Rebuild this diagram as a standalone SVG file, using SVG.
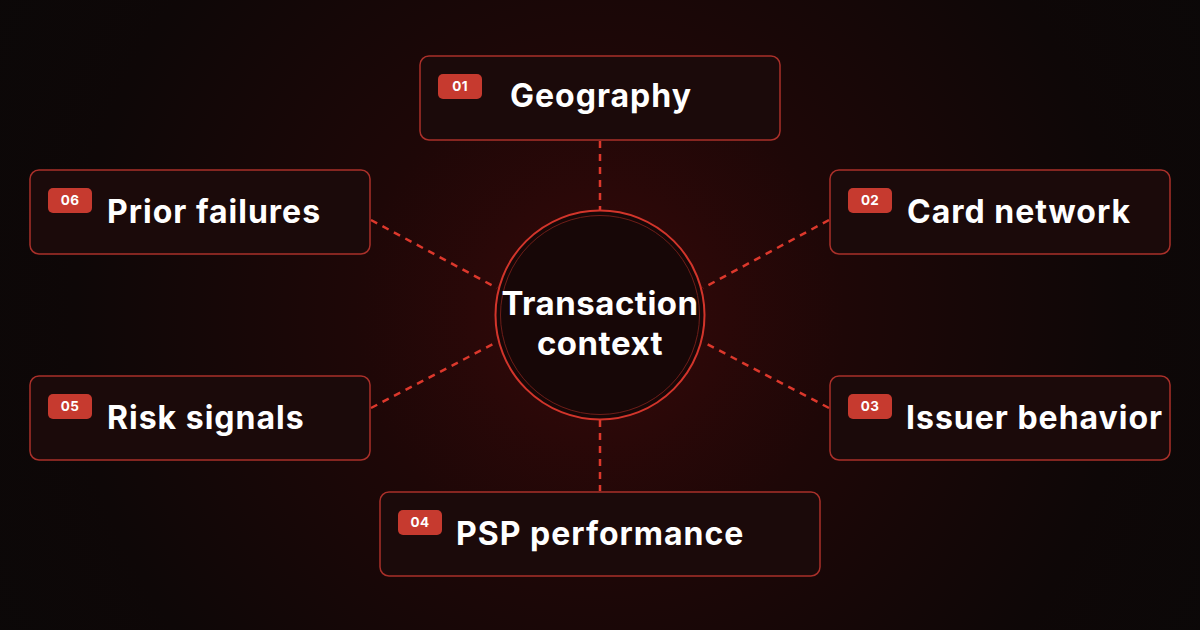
<svg xmlns="http://www.w3.org/2000/svg" width="1200" height="630" viewBox="0 0 1200 630">
  <defs>
    <radialGradient id="bg" cx="600" cy="315" r="700" gradientUnits="userSpaceOnUse">
      <stop offset="0" stop-color="#360909"/>
      <stop offset="0.35" stop-color="#1e0707"/>
      <stop offset="0.75" stop-color="#0e0707"/>
      <stop offset="1" stop-color="#0b0808"/>
    </radialGradient>
    <style>
      .box { fill: #1b0a0a; stroke: #a9302a; stroke-width: 1.5; }
      .badge { fill: #c63a2f; }
      .num { fill: #ffffff; font-family: Inter, "Liberation Sans", sans-serif; font-weight: 700; font-size: 13.5px; text-anchor: middle; letter-spacing: 0.3px; }
      .label { fill: #ffffff; font-family: Inter, "Liberation Sans", sans-serif; font-weight: 700; font-size: 32px; letter-spacing: 1px; }
      .conn { stroke: #dc382c; stroke-width: 2.5; stroke-dasharray: 7 6; fill: none; }
      .center-text { fill: #ffffff; font-family: Inter, "Liberation Sans", sans-serif; font-weight: 700; font-size: 33px; text-anchor: middle; letter-spacing: 0.5px; }
    </style>
  </defs>
  <rect width="1200" height="630" fill="url(#bg)"/>

  <g id="connectors">
    <line class="conn" x1="600" y1="141" x2="600" y2="210"/>
    <line class="conn" x1="600" y1="420" x2="600" y2="491"/>
    <line class="conn" x1="371" y1="220" x2="497" y2="288"/>
    <line class="conn" x1="829" y1="220" x2="703" y2="288"/>
    <line class="conn" x1="371" y1="408" x2="497" y2="342"/>
    <line class="conn" x1="829" y1="408" x2="703" y2="342"/>
  </g>

  <g id="center">
    <circle cx="600" cy="315" r="104.5" fill="#170707" stroke="#d2352b" stroke-width="2"/>
    <circle cx="600" cy="315" r="99.5" fill="none" stroke="#6e1d18" stroke-width="1"/>
    <text class="center-text" x="600" y="315">Transaction</text>
    <text class="center-text" x="600" y="355">context</text>
  </g>

  <g id="node-01">
    <rect class="box" x="420" y="56" width="360" height="84" rx="9"/>
    <rect class="badge" x="438" y="74" width="44" height="25" rx="5"/>
    <text class="num" x="460" y="91">01</text>
    <text class="label" x="510" y="107">Geography</text>
  </g>

  <g id="node-02">
    <rect class="box" x="830" y="170" width="340" height="84" rx="9"/>
    <rect class="badge" x="848" y="188" width="44" height="25" rx="5"/>
    <text class="num" x="870" y="205">02</text>
    <text class="label" x="907" y="223">Card network</text>
  </g>

  <g id="node-03">
    <rect class="box" x="830" y="376" width="340" height="84" rx="9"/>
    <rect class="badge" x="848" y="394" width="44" height="25" rx="5"/>
    <text class="num" x="870" y="411">03</text>
    <text class="label" x="906" y="429">Issuer behavior</text>
  </g>

  <g id="node-04">
    <rect class="box" x="380" y="492" width="440" height="84" rx="9"/>
    <rect class="badge" x="398" y="510" width="44" height="25" rx="5"/>
    <text class="num" x="420" y="527">04</text>
    <text class="label" x="456" y="545">PSP performance</text>
  </g>

  <g id="node-05">
    <rect class="box" x="30" y="376" width="340" height="84" rx="9"/>
    <rect class="badge" x="48" y="394" width="44" height="25" rx="5"/>
    <text class="num" x="70" y="411">05</text>
    <text class="label" x="107" y="429">Risk signals</text>
  </g>

  <g id="node-06">
    <rect class="box" x="30" y="170" width="340" height="84" rx="9"/>
    <rect class="badge" x="48" y="188" width="44" height="25" rx="5"/>
    <text class="num" x="70" y="205">06</text>
    <text class="label" x="107" y="223">Prior failures</text>
  </g>
</svg>
